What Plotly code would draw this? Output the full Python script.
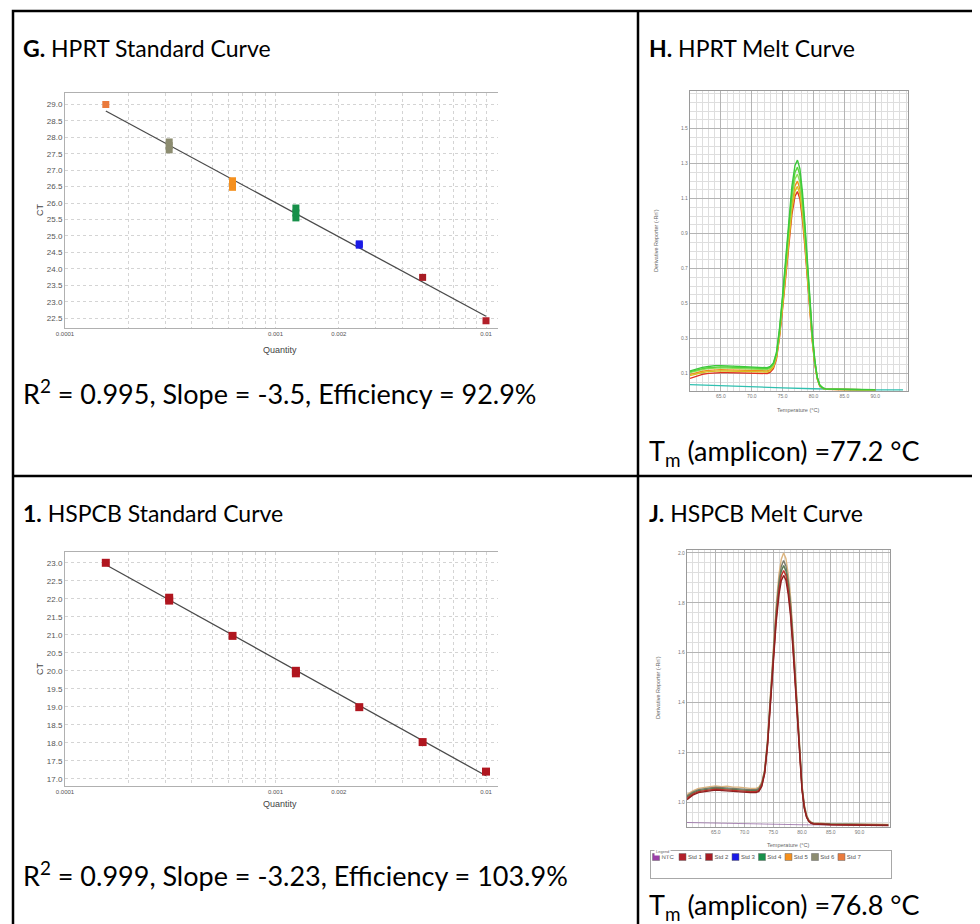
import plotly.graph_objects as go
import numpy as np

W, H = 980, 924
def X(px): return px / W
def Y(py): return 1 - py / H

# ---------------- data ----------------
STD_NAMES = ["NTC", "Std 1", "Std 2", "Std 3", "Std 4", "Std 5", "Std 6", "Std 7"]
STD_COLORS = ["#9b3fa8", "#b3202a", "#a81c24", "#1a1ae6", "#17904a", "#f5901e", "#8c8c70", "#ea7a3c"]

quantity = [0.01, 0.005, 0.0025, 0.00125, 0.000625, 0.0003125, 0.00015625]
G_ct = [[22.42], [23.74], [24.72, 24.76], [25.55, 25.7, 25.85], [26.48, 26.58, 26.68],
        [27.62, 27.75, 27.86], [29.0]]
I_ct = [[17.2], [18.02], [18.99], [19.93, 20.0], [20.97], [21.95, 22.03], [23.0]]

q_tick_vals = [0.0001, 0.0002, 0.0003, 0.0004, 0.0005, 0.0006, 0.0007, 0.0008, 0.0009,
               0.001, 0.002, 0.003, 0.004, 0.005, 0.006, 0.007, 0.008, 0.009, 0.01]
q_tick_text = ["0.0001", " ", " ", " ", " ", " ", " ", " ", " ",
               "0.001", "0.002", " ", " ", " ", " ", " ", " ", " ", "0.01"]

T_H = [60, 61, 62, 63, 64, 65, 66, 67, 68, 69, 70, 71, 72, 72.5, 73, 73.5, 74, 74.5, 75, 75.5,
       76, 76.5, 77, 77.4, 77.8, 78.2, 78.6, 79, 79.4, 79.8, 80.2, 80.6, 81, 81.5, 82, 83, 84, 86, 88, 90]
h_red = [0.072, 0.085, 0.095, 0.101, 0.104, 0.105, 0.105, 0.104, 0.103, 0.102, 0.101, 0.100, 0.099,
         0.100, 0.108, 0.128, 0.183, 0.309, 0.473, 0.663, 0.855, 1.010, 1.114, 1.140, 1.097, 0.984,
         0.828, 0.639, 0.449, 0.285, 0.157, 0.070, 0.030, 0.015, 0.010, 0.009, 0.008, 0.008, 0.007, 0.007]
h_orange = [0.095, 0.105, 0.113, 0.118, 0.121, 0.122, 0.121, 0.120, 0.118, 0.117, 0.116, 0.115, 0.114,
            0.115, 0.122, 0.142, 0.197, 0.326, 0.498, 0.698, 0.900, 1.064, 1.173, 1.200, 1.155, 1.036,
            0.872, 0.673, 0.473, 0.300, 0.165, 0.074, 0.032, 0.016, 0.011, 0.009, 0.009, 0.008, 0.007, 0.007]
h_yellow = [0.088, 0.098, 0.106, 0.111, 0.114, 0.115, 0.114, 0.113, 0.112, 0.111, 0.110, 0.109, 0.108,
            0.109, 0.116, 0.136, 0.190, 0.318, 0.486, 0.681, 0.878, 1.037, 1.143, 1.170, 1.126, 1.010,
            0.850, 0.656, 0.461, 0.292, 0.161, 0.072, 0.031, 0.016, 0.010, 0.009, 0.008, 0.008, 0.007, 0.007]
h_green3 = [0.105, 0.115, 0.123, 0.128, 0.131, 0.132, 0.131, 0.129, 0.127, 0.126, 0.125, 0.124, 0.122,
            0.123, 0.130, 0.150, 0.205, 0.337, 0.515, 0.722, 0.930, 1.100, 1.212, 1.240, 1.193, 1.071,
            0.901, 0.696, 0.489, 0.310, 0.170, 0.076, 0.033, 0.017, 0.011, 0.010, 0.009, 0.008, 0.008, 0.007]
h_green2 = [0.110, 0.120, 0.128, 0.133, 0.137, 0.138, 0.137, 0.135, 0.133, 0.131, 0.130, 0.129, 0.127,
            0.128, 0.135, 0.155, 0.212, 0.348, 0.532, 0.745, 0.960, 1.135, 1.250, 1.280, 1.232, 1.105,
            0.930, 0.718, 0.505, 0.320, 0.175, 0.078, 0.034, 0.017, 0.011, 0.010, 0.009, 0.009, 0.008, 0.008]
h_green1 = [0.115, 0.125, 0.135, 0.140, 0.145, 0.145, 0.145, 0.142, 0.140, 0.138, 0.136, 0.135, 0.133,
            0.133, 0.140, 0.160, 0.220, 0.360, 0.550, 0.770, 0.990, 1.170, 1.290, 1.320, 1.270, 1.140,
            0.960, 0.740, 0.520, 0.330, 0.180, 0.080, 0.035, 0.018, 0.012, 0.010, 0.010, 0.009, 0.008, 0.008]
H_curves = [h_red, h_orange, h_yellow, h_green3, h_green2, h_green1]
H_colors = ["#e0301e", "#f08c1e", "#d8c020", "#8ee05a", "#5cd43c", "#3cc83c"]
T_ntc_H = [60, 65, 70, 75, 80, 85, 90, 94.5]
ntc_H = [0.036, 0.029, 0.023, 0.018, 0.013, 0.009, 0.007, 0.006]

T_J = [60, 61, 62, 63, 64, 65, 66, 67, 68, 69, 70, 71, 72, 72.5, 73, 73.5, 74, 74.5, 75, 75.5, 76,
       76.4, 76.8, 77.2, 77.6, 78, 78.4, 78.8, 79.2, 79.6, 80, 80.4, 80.8, 81.2, 81.6, 82, 83, 85, 88, 91, 95]
j_tan = [1.030, 1.045, 1.055, 1.060, 1.062, 1.065, 1.062, 1.064, 1.060, 1.060, 1.056, 1.055, 1.055,
         1.060, 1.080, 1.130, 1.250, 1.435, 1.625, 1.790, 1.915, 1.975, 2.000, 1.978, 1.915, 1.825,
         1.690, 1.530, 1.355, 1.200, 1.070, 0.990, 0.948, 0.928, 0.920, 0.916, 0.914, 0.913, 0.912, 0.911, 0.910]
j_gray = [1.025, 1.040, 1.050, 1.055, 1.057, 1.060, 1.058, 1.059, 1.056, 1.055, 1.052, 1.050, 1.050,
          1.055, 1.075, 1.125, 1.242, 1.422, 1.605, 1.765, 1.888, 1.946, 1.970, 1.948, 1.888, 1.800,
          1.668, 1.512, 1.340, 1.190, 1.063, 0.985, 0.945, 0.926, 0.918, 0.915, 0.913, 0.912, 0.911, 0.910, 0.909]
j_olive = [1.020, 1.036, 1.046, 1.051, 1.053, 1.056, 1.054, 1.055, 1.052, 1.051, 1.048, 1.046, 1.046,
           1.051, 1.071, 1.121, 1.236, 1.412, 1.592, 1.750, 1.870, 1.927, 1.950, 1.929, 1.870, 1.783,
           1.653, 1.500, 1.330, 1.183, 1.058, 0.981, 0.942, 0.924, 0.917, 0.914, 0.912, 0.911, 0.910, 0.909, 0.908]
j_red = [1.015, 1.032, 1.042, 1.047, 1.049, 1.052, 1.050, 1.051, 1.048, 1.047, 1.044, 1.042, 1.042,
         1.047, 1.067, 1.117, 1.230, 1.402, 1.578, 1.735, 1.852, 1.908, 1.930, 1.910, 1.852, 1.766,
         1.638, 1.487, 1.320, 1.176, 1.053, 0.978, 0.940, 0.923, 0.916, 0.913, 0.911, 0.910, 0.909, 0.908, 0.907]
j_darkred = [1.010, 1.028, 1.038, 1.043, 1.045, 1.048, 1.046, 1.047, 1.044, 1.043, 1.040, 1.038, 1.038,
             1.043, 1.063, 1.113, 1.224, 1.392, 1.565, 1.720, 1.834, 1.889, 1.910, 1.891, 1.834, 1.749,
             1.623, 1.474, 1.310, 1.169, 1.048, 0.975, 0.938, 0.922, 0.915, 0.912, 0.910, 0.909, 0.908, 0.907, 0.906]
J_curves = [j_tan, j_gray, j_olive, j_red, j_darkred]
J_colors = ["#dcb47e", "#7c7c6c", "#5a7a50", "#c0302a", "#8e2020"]
T_ntc_J = [60, 65, 70, 75, 80, 85, 90, 95]
ntc_J = [0.918, 0.915, 0.912, 0.910, 0.909, 0.908, 0.907, 0.906]

H_yticks = [0.1, 0.3, 0.5, 0.7, 0.9, 1.1, 1.3, 1.5]
J_yticks = [1.0, 1.2, 1.4, 1.6, 1.8, 2.0]
T_ticks = [65, 70, 75, 80, 85, 90]

# ---------------- figure ----------------
fig = go.Figure()

def std_curve(cts_list, colors, xa, ya, msize):
    xs = [q for q, cts in zip(quantity, cts_list) for _ in cts]
    ys = [c for cts in cts_list for c in cts]
    slope, icpt = np.polyfit(np.log10(xs), ys, 1)
    lx = [min(quantity), max(quantity)]
    ly = [slope * np.log10(v) + icpt for v in lx]
    fig.add_trace(go.Scatter(x=lx, y=ly, mode="lines", line=dict(color="#4a4a4a", width=1.3),
                             xaxis=xa, yaxis=ya, showlegend=False, hoverinfo="skip"))
    for q, cts, col in zip(quantity, cts_list, colors):
        fig.add_trace(go.Scatter(x=[q] * len(cts), y=cts, mode="markers",
                                 marker=dict(symbol="square", size=msize, color=col, line=dict(width=0)),
                                 xaxis=xa, yaxis=ya, showlegend=False))

std_curve(G_ct, STD_COLORS[1:], "x", "y", 7)
std_curve(I_ct, ["#b0161f"] * 7, "x3", "y3", 8)

# H melt curves
fig.add_trace(go.Scatter(x=T_ntc_H, y=ntc_H, mode="lines", line=dict(color="#30c0b0", width=1.3),
                         xaxis="x2", yaxis="y2", showlegend=False))
for ys, col in zip(H_curves, H_colors):
    fig.add_trace(go.Scatter(x=T_H, y=ys, mode="lines", line=dict(color=col, width=1.4),
                             xaxis="x2", yaxis="y2", showlegend=False))

# J melt curves
fig.add_trace(go.Scatter(x=T_ntc_J, y=ntc_J, mode="lines", line=dict(color="#8a5a9a", width=1.1),
                         opacity=0.7, xaxis="x4", yaxis="y4", showlegend=False))
for ys, col in zip(J_curves, J_colors):
    fig.add_trace(go.Scatter(x=T_J, y=ys, mode="lines", line=dict(color=col, width=1.4),
                             xaxis="x4", yaxis="y4", showlegend=False))

# J legend strip
fig.add_trace(go.Scatter(x=list(range(len(STD_NAMES))), y=[0] * len(STD_NAMES), mode="markers+text",
                         text=STD_NAMES, textposition="middle right",
                         textfont=dict(size=6, color="#555", family="Liberation Sans"),
                         marker=dict(symbol="square", size=7, color=STD_COLORS,
                                     line=dict(color="#666", width=0.5)),
                         xaxis="x5", yaxis="y5", showlegend=False, cliponaxis=False))

grid_std = dict(showgrid=True, gridcolor="#d4d4d4", griddash="dot", gridwidth=1, zeroline=False)
tickf_small = dict(size=6, color="#555", family="Liberation Sans")
tickf_y = dict(size=8, color="#555", family="Liberation Sans")

def std_axes(ytop, ybot, yrange):
    xa = dict(type="log", range=[-4, -1.943], domain=[X(57), X(490)], tickmode="array",
              tickvals=q_tick_vals, ticktext=q_tick_text, tickfont=tickf_small, tickangle=0,
              showline=True, linecolor="#b0b0b0", linewidth=1, mirror=True, ticks="", **grid_std)
    ya = dict(range=yrange, domain=[Y(ybot), Y(ytop)], dtick=0.5, tick0=0, tickformat=".1f",
              tickfont=tickf_y, showline=True, linecolor="#b0b0b0", linewidth=1, ticks="", **grid_std)
    return xa, ya

xa1, ya1 = std_axes(85, 320, [22.2, 29.35])
xa3, ya3 = std_axes(544, 778, [16.8, 23.3])

def melt_axes(x0, x1, ytop, ybot, yrange, yticks, yminor):
    xa = dict(range=[60, 95.3], domain=[X(x0), X(x1)], tickmode="array", tickvals=T_ticks,
              tickformat=".1f", tickfont=dict(size=5, color="#777", family="Liberation Sans"), tickangle=0,
              showgrid=True, gridcolor="#b4b4b4", gridwidth=1, zeroline=False,
              minor=dict(tickmode="linear", tick0=60, dtick=1, showgrid=True, gridcolor="#dedede"),
              showline=True, mirror=True, linecolor="#9a9a9a", linewidth=1.2, ticks="")
    ya = dict(range=yrange, domain=[Y(ybot), Y(ytop)], tickmode="array", tickvals=yticks,
              tickformat=".1f", tickfont=dict(size=5, color="#777", family="Liberation Sans"),
              showgrid=True, gridcolor="#b4b4b4", gridwidth=1, zeroline=False,
              minor=dict(tickmode="linear", tick0=yticks[0], dtick=yminor, showgrid=True, gridcolor="#dedede"),
              showline=True, mirror=True, linecolor="#9a9a9a", linewidth=1.2, ticks="")
    return xa, ya

xa2, ya2 = melt_axes(682, 900, 83, 383, [0.0, 1.715], H_yticks, 0.05)
xa4, ya4 = melt_axes(679, 882, 542, 819, [0.9, 2.012], J_yticks, 0.04)

xa5 = dict(range=[-0.19, 8.87], domain=[X(643), X(883)], showgrid=False, zeroline=False,
           showticklabels=False, showline=True, mirror=True, linecolor="#a8a8a8", linewidth=1, fixedrange=True)
ya5 = dict(range=[-3.5, 1], domain=[Y(870), Y(843)], showgrid=False, zeroline=False,
           showticklabels=False, showline=True, mirror=True, linecolor="#a8a8a8", linewidth=1, fixedrange=True)

# ---------------- text ----------------
TXT = "Lato"
anns = []
def txt(s, x, y, size, **kw):
    d = dict(text=s, x=X(x), y=Y(y), xref="paper", yref="paper", xanchor="left", yanchor="middle",
             showarrow=False, font=dict(family=TXT, size=size, color="black"))
    d.update(kw)
    anns.append(d)

TS, BS = 23, 27
txt("<b>G.</b> HPRT Standard Curve", 13, 40, TS)
txt("<b>H.</b> HPRT Melt Curve", 639, 40, TS)
txt("R<sup>2</sup> = 0.995, Slope = -3.5, Efficiency = 92.9%", 13, 384, BS)
txt("T<sub>m</sub> (amplicon) =77.2 °C", 639, 444, BS)
txt("<b>1.</b> HSPCB Standard Curve", 13, 505, TS)
txt("<b>J.</b> HSPCB Melt Curve", 639, 505, TS)
txt("R<sup>2</sup> = 0.999, Slope = -3.23, Efficiency = 103.9%", 13, 866, BS)
txt("T<sub>m</sub> (amplicon) =76.8 °C", 639, 898, BS)

small = dict(family="Liberation Sans", size=9, color="#444")
tiny = dict(family="Liberation Sans", size=5.5, color="#666")
for (s, x, y, f, ang) in [("Quantity", 272, 342, small, 0), ("Quantity", 272, 796, small, 0),
                          ("CT", 32, 202, small, -90), ("CT", 32, 661, small, -90),
                          ("Temperature (°C)", 790, 402, tiny, 0), ("Temperature (°C)", 780, 837, tiny, 0),
                          ("Derivative Reporter (-Rn')", 648, 233, tiny, -90),
                          ("Derivative Reporter (-Rn')", 650, 680, tiny, -90)]:
    anns.append(dict(text=s, x=X(x), y=Y(y), xref="paper", yref="paper", xanchor="center",
                     yanchor="middle", showarrow=False, font=f, textangle=ang))
anns.append(dict(text="Legend", x=X(646), y=Y(843), xref="paper", yref="paper", xanchor="left",
                 yanchor="middle", showarrow=False, font=dict(family="Liberation Sans", size=4, color="#666"),
                 bgcolor="white"))

# ---------------- table borders ----------------
lw = 2.5
shapes = [
    dict(type="rect", xref="paper", yref="paper", x0=X(5), x1=X(977), y0=Y(921), y1=Y(3),
         line=dict(color="black", width=lw)),
    dict(type="line", xref="paper", yref="paper", x0=X(630), x1=X(630), y0=Y(921), y1=Y(3),
         line=dict(color="black", width=lw)),
    dict(type="line", xref="paper", yref="paper", x0=X(5), x1=X(977), y0=Y(468), y1=Y(468),
         line=dict(color="black", width=lw)),
]

fig.update_layout(
    width=W, height=H, margin=dict(l=0, r=0, t=0, b=0, autoexpand=False),
    paper_bgcolor="white", plot_bgcolor="white", showlegend=False,
    xaxis=dict(xa1, anchor="y"), yaxis=dict(ya1, anchor="x"),
    xaxis2=dict(xa2, anchor="y2"), yaxis2=dict(ya2, anchor="x2"),
    xaxis3=dict(xa3, anchor="y3"), yaxis3=dict(ya3, anchor="x3"),
    xaxis4=dict(xa4, anchor="y4"), yaxis4=dict(ya4, anchor="x4"),
    xaxis5=dict(xa5, anchor="y5"), yaxis5=dict(ya5, anchor="x5"),
    annotations=anns, shapes=shapes,
)

fig.write_html("out.html")
